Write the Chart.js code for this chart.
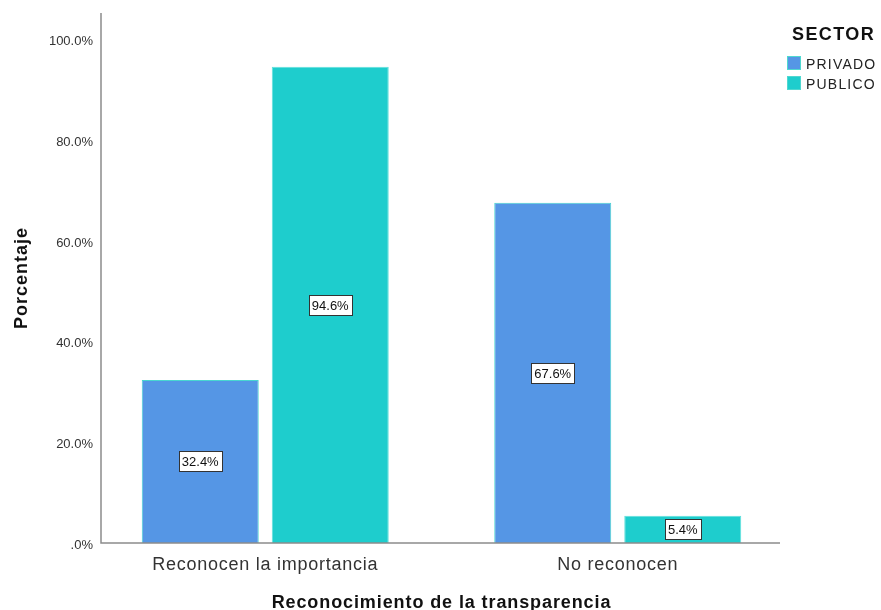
<!DOCTYPE html>
<html>
<head>
<meta charset="utf-8">
<script src="https://cdn.jsdelivr.net/npm/chart.js@4/dist/chart.umd.min.js"></script>
<style>
    html, body { margin: 0; padding: 0; background: #fff; }
    #wrap { width: 881px; height: 610px; }
</style>
</head>
<body>
<div id="wrap"><canvas id="chart-sector"></canvas></div>
<script>
const categories = ["Reconocen la importancia", "No reconocen"];
const privado = [32.4, 67.6];
const publico = [94.6, 5.4];
const yTicks = [0, 20, 40, 60, 80, 100];
const xTitle = "Reconocimiento de la transparencia";
const yTitle = "Porcentaje";
const legendTitle = "SECTOR";

const FONT = "'Liberation Sans', Arial, sans-serif";
const fmtPct = (v) => (v === 0 ? ".0%" : v.toFixed(1) + "%");

// axis lines drawn a bit inside the chart area, like the SPSS output
const axisLines = {
    id: "axisLines",
    afterDatasetsDraw(chart) {
        const { ctx, chartArea } = chart;
        const x0 = chartArea.left + 12;
        const x1 = chartArea.right - 14;
        ctx.save();
        ctx.strokeStyle = "#8c8c8c";
        ctx.lineWidth = 1.5;
        ctx.beginPath();
        ctx.moveTo(x0, chartArea.top);
        ctx.lineTo(x0, chartArea.bottom);
        ctx.lineTo(x1, chartArea.bottom);
        ctx.stroke();
        ctx.restore();
    },
};

const valueLabels = {
    id: "valueLabels",
    afterDatasetsDraw(chart) {
        const { ctx } = chart;
        ctx.save();
        ctx.font = "13px " + FONT;
        ctx.textAlign = "center";
        ctx.textBaseline = "middle";
        chart.data.datasets.forEach((ds, i) => {
            chart.getDatasetMeta(i).data.forEach((bar, j) => {
                const text = fmtPct(ds.data[j]);
                const w = Math.round(ctx.measureText(text).width + 6);
                const h = 20;
                const cy = Math.round((bar.y + bar.base) / 2);
                const left = Math.round(bar.x - w / 2);
                ctx.fillStyle = "#fff";
                ctx.fillRect(left, cy - h / 2, w, h);
                ctx.strokeStyle = "#333";
                ctx.lineWidth = 1;
                ctx.strokeRect(left + 0.5, cy - h / 2 + 0.5, w, h);
                ctx.fillStyle = "#111";
                ctx.fillText(text, bar.x, cy + 1);
            });
        });
        ctx.restore();
    },
};

// tick labels and axis titles, spaced out a little like the original
const axisText = {
    id: "axisText",
    afterDraw(chart) {
        const { ctx, chartArea } = chart;
        const xScale = chart.scales.x;
        const yScale = chart.scales.y;
        ctx.save();

        ctx.fillStyle = "#333";
        ctx.textAlign = "right";
        ctx.textBaseline = "middle";
        ctx.font = "13px " + FONT;
        yTicks.forEach((v) => {
            ctx.fillText(fmtPct(v), chartArea.left + 4, yScale.getPixelForValue(v) + 2);
        });

        ctx.letterSpacing = "0.75px";
        ctx.textAlign = "center";
        ctx.textBaseline = "alphabetic";
        ctx.font = "18px " + FONT;
        categories.forEach((c, i) => {
            ctx.fillText(c, xScale.getPixelForTick(i), 570);
        });

        ctx.fillStyle = "#111";
        ctx.letterSpacing = "0.9px";
        ctx.font = "bold 18px " + FONT;
        ctx.fillText(xTitle, (chartArea.left + chartArea.right) / 2, 608);

        ctx.letterSpacing = "1px";
        ctx.translate(27, (chartArea.top + chartArea.bottom) / 2);
        ctx.rotate(-Math.PI / 2);
        ctx.fillText(yTitle, 0, 0);
        ctx.restore();
    },
};

const sideLegend = {
    id: "sideLegend",
    afterDraw(chart) {
        const { ctx } = chart;
        ctx.save();
        ctx.fillStyle = "#111";
        ctx.textBaseline = "alphabetic";
        ctx.letterSpacing = "1.4px";
        ctx.font = "bold 18px " + FONT;
        ctx.fillText(legendTitle, 792, 40);
        ctx.letterSpacing = "1.2px";
        ctx.font = "14px " + FONT;
        chart.data.datasets.forEach((ds, i) => {
            const y = 56 + i * 20;
            ctx.fillStyle = ds.backgroundColor;
            ctx.fillRect(787, y, 14, 14);
            ctx.strokeStyle = "#4fd8d0";
            ctx.lineWidth = 1;
            ctx.strokeRect(787.5, y + 0.5, 13, 13);
            ctx.fillStyle = "#222";
            ctx.fillText(ds.label, 806, y + 13);
        });
        ctx.restore();
    },
};

new Chart(document.getElementById("chart-sector"), {
    type: "bar",
    data: {
        labels: categories,
        datasets: [
            {
                label: "PRIVADO",
                data: privado,
                backgroundColor: "#5596e5",
                borderColor: "#48d6d0",
                borderWidth: 1,
            },
            {
                label: "PUBLICO",
                data: publico,
                backgroundColor: "#1ecdcd",
                borderColor: "#5fe0dc",
                borderWidth: 1,
            },
        ],
    },
    options: {
        responsive: true,
        maintainAspectRatio: false,
        animation: false,
        datasets: {
            bar: {
                categoryPercentage: 0.7376,
                barPercentage: 0.9,
            },
        },
        layout: {
            padding: { left: 0, right: 87, top: 13, bottom: 0 },
        },
        plugins: {
            legend: { display: false },
            tooltip: { enabled: false },
        },
        scales: {
            x: {
                border: { display: false },
                grid: { display: false, drawTicks: false },
                ticks: { display: false },
                afterFit(scale) {
                    scale.height = 67;
                },
            },
            y: {
                min: 0,
                max: 105.3,
                border: { display: false },
                grid: { display: false, drawTicks: false },
                afterBuildTicks(scale) {
                    scale.ticks = yTicks.map((v) => ({ value: v }));
                },
                ticks: { display: false },
                afterFit(scale) {
                    scale.width = 89;
                },
            },
        },
    },
    plugins: [axisLines, valueLabels, axisText, sideLegend],
});
</script>
</body>
</html>
